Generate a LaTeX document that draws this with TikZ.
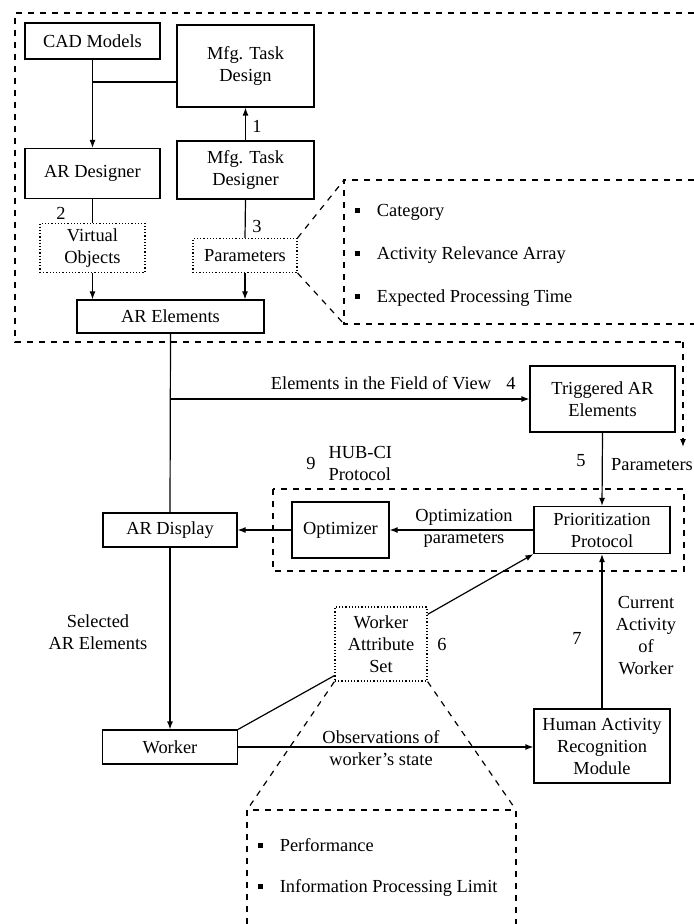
\documentclass[tikz,border=0pt]{standalone}
\usepackage{fontspec}
\setmainfont{Liberation Serif}
\usetikzlibrary{arrows.meta}

\tikzset{
  blk/.style={draw, line width=0.6pt, align=center, inner sep=1pt},
  dotblk/.style={blk, densely dotted},
  lbl/.style={inner sep=0pt, align=center},
  zoomline/.style={dashed, line width=0.6pt},
}
\newcommand{\bul}{\rule[1.6pt]{2.6pt}{2.6pt}\hspace{8.5pt}}

\begin{document}
\begin{tikzpicture}[x=0.5pt, y=-0.5pt, line width=0.6pt, >={Latex[length=4pt,width=3pt]},
    every node/.append style={font=\fontsize{9.2}{11}\selectfont}]
  \useasboundingbox (0,0) rectangle (694,924);
  % design stage
  \node[blk, minimum width=67.5pt, minimum height=18pt] (cad) at (92.5,41) {CAD Models};
  \node[blk, minimum width=68.5pt, minimum height=41pt] (taskdesign) at (245.5,66) {Mfg. Task\\Design};
  \node[blk, minimum width=67.5pt, minimum height=25pt] (ardesigner) at (92.5,173.5) {AR Designer};
  \node[blk, minimum width=68.5pt, minimum height=29pt] (taskdesigner) at (245.5,170) {Mfg. Task\\Designer};
  \node[dotblk, minimum width=52.5pt, minimum height=24.5pt] (virtual) at (92.5,248) {Virtual\\Objects};
  \node[dotblk, minimum width=52pt, minimum height=17pt] (params) at (245,255.5) {Parameters};
  \node[blk, minimum width=93.5pt, minimum height=16.5pt] (arelem) at (170.5,316.5) {AR Elements};
  \coordinate (j1) at (92.5,82);
  \draw[->] (cad.south) -- (ardesigner.north);
  \draw (j1) -- (j1 -| taskdesign.west);
  \draw[->] (taskdesigner.north) -- (taskdesign.south);
  \draw (ardesigner.south) -- (virtual.north);
  \draw (taskdesigner.south) -- (params.north);
  \draw[->] (virtual.south) -- (virtual.south |- arelem.north);
  \draw[->] (params.south) -- (params.south |- arelem.north);
  \node[lbl] (n1) at (257,126) {1};
  \node[lbl] (n2) at (61,213) {2};
  \node[lbl] (n3) at (257,227) {3};
  % design stage frame and parameter list
  \draw[zoomline] (694,13) -- (15,13) -- (15,342) -- (683,342);
  \draw[zoomline, ->] (683,342) -- (683,447);
  \draw[zoomline] (694,180) -- (344,180) -- (344,324) -- (694,324);
  \draw[zoomline] (params.north east) -- (344,180);
  \draw[zoomline] (params.south east) -- (344,324);
  \node[lbl, anchor=west] (cat) at (354,212) {\bul Category};
  \node[lbl, anchor=west] (ara) at (354,255) {\bul Activity Relevance Array};
  \node[lbl, anchor=west] (ept) at (354,298) {\bul Expected Processing Time};
  % run-time stage
  \node[blk, minimum width=72.5pt, minimum height=33pt] (trig) at (602.5,399) {Triggered AR\\Elements};
  \node[blk, minimum width=67pt, minimum height=17pt] (ardisplay) at (170,530) {AR Display};
  \node[blk, minimum width=48.5pt, minimum height=28pt] (optimizer) at (340.5,530) {Optimizer};
  \node[blk, minimum width=68pt, minimum height=23.5pt] (prio) at (602,530) {Prioritization\\Protocol};
  \node[dotblk, minimum width=46pt, minimum height=37pt] (was) at (381,644) {Worker\\Attribute\\Set};
  \node[blk, minimum width=67.5pt, minimum height=17pt] (worker) at (170,747) {Worker};
  \node[blk, minimum width=68pt, minimum height=37pt] (har) at (602,746) {Human Activity\\Recognition\\Module};
  \draw[zoomline] (273,489) rectangle (684,571);
  \coordinate (j2) at (170,399);
  \draw (arelem.south) -- (ardisplay.north);
  \draw[->] (j2) -- (trig.west);
  \draw[->] (trig.south) -- (prio.north);
  \draw[->] (prio.west) -- (optimizer.east);
  \draw[->] (optimizer.west) -- (ardisplay.east);
  \draw[->] (ardisplay.south) -- (worker.north);
  \draw[->] (worker.east) -- (worker.east -| har.west);
  \draw[->] (har.north) -- (prio.south);
  \draw (worker.north east) -- ([yshift=3pt]was.south west);
  \draw[->] ([yshift=-4pt]was.north east) -- (prio.south west);
  \node[lbl] (fov) at (381,383) {Elements in the Field of View};
  \node[lbl] (n4) at (511,383) {4};
  \node[lbl] (n5) at (581,461) {5};
  \node[lbl] (parlbl) at (652,465) {Parameters};
  \node[lbl] (n9) at (311,463) {9};
  \node[lbl, align=left, anchor=west] (hub) at (328,463) {HUB-CI\\Protocol};
  \node[lbl] (optpar) at (464,528) {Optimization\\parameters};
  \node[lbl] (sel) at (98,632) {Selected\\AR Elements};
  \node[lbl] (n6) at (442,644) {6};
  \node[lbl] (n7) at (577,638) {7};
  \node[lbl] (cur) at (646,636) {Current\\Activity\\of\\Worker};
  \node[lbl] (obs) at (381,748) {Observations of\\worker's state};
  % worker attribute list
  \draw[zoomline] (was.south west) -- (247,810);
  \draw[zoomline] (was.south east) -- (516,810);
  \draw[zoomline] (247,924) -- (247,810) -- (516,810) -- (516,924);
  \node[lbl, anchor=west] (perf) at (257,845) {\bul Performance};
  \node[lbl, anchor=west] (ipl) at (257,888) {\bul Information Processing Limit};
\end{tikzpicture}
\end{document}
